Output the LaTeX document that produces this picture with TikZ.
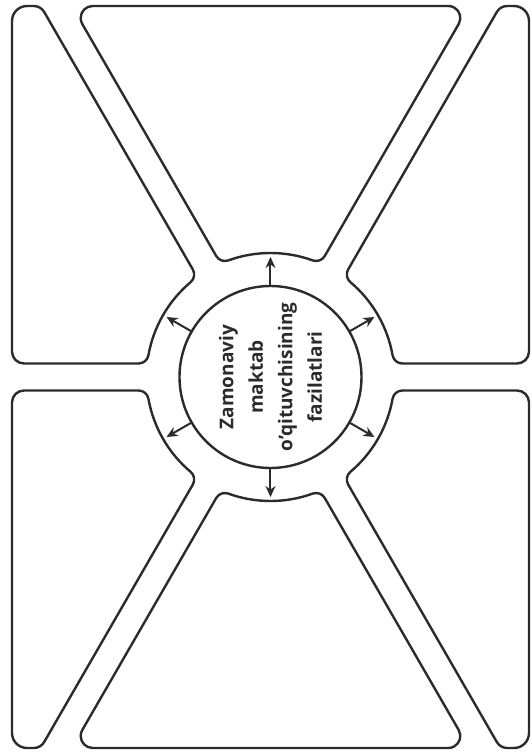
\documentclass[tikz,border=0pt]{standalone}
\usepackage{fontspec}
\setmainfont{Open Sans}
\usetikzlibrary{arrows.meta}
\definecolor{ink}{HTML}{2B2B2B}
\begin{document}
\begin{tikzpicture}[x=1pt,y=1pt,
  region/.style={draw=ink, line width=2.4pt, line join=round},
  trpath/.style={insert path={(131.92,13.5) -- (246.5,13.5) arc[start angle=-90,end angle=0,radius=12]
     -- (258.5,356) arc[start angle=0,end angle=90,radius=15]
     -- (236.7,371) arc[start angle=90,end angle=150,radius=12]
     -- (77.65,107.5) arc[start angle=150,end angle=229.9,radius=10]
     arc[start angle=49.9,end angle=10.1,radius=124]
     arc[start angle=190.1,end angle=270,radius=10] -- cycle}},
  tmpath/.style={insert path={(54.27,121.0) -- (188.21,353.0) arc[start angle=-30,end angle=90,radius=12]
     -- (-177.82,371) arc[start angle=90,end angle=210,radius=12]
     -- (-54.27,121.0) arc[start angle=210,end angle=289.9,radius=10]
     arc[start angle=109.9,end angle=70.1,radius=124]
     arc[start angle=250.1,end angle=330,radius=10] -- cycle}},
  hub/.style={circle, draw=ink, line width=2.4pt, minimum size=182pt, inner sep=0pt, outer sep=0pt},
  hubtext/.style={rotate=90, align=center, text=ink, font=\bfseries\fontsize{19}{29.5}\selectfont},
  arr/.style={draw=ink, line width=2pt, -{Stealth[length=11pt,width=10pt]}}
]
\useasboundingbox (-270.5,-376) rectangle (260.5,377);
% six regions
\draw[region, trpath];
\begin{scope}[xscale=-1] \draw[region, trpath]; \end{scope}
\begin{scope}[yscale=-1] \draw[region, trpath]; \end{scope}
\begin{scope}[xscale=-1,yscale=-1] \draw[region, trpath]; \end{scope}
\draw[region, tmpath];
\begin{scope}[yscale=-1] \draw[region, tmpath]; \end{scope}
% hub
\node[hub] (c) at (0,0) {};
\node[hubtext] (t) at (c.center) {Zamonaviy\\maktab\\o'qituvchisining\\fazilatlari};
\foreach \a in {30,90,150,210,270,330} {
  \coordinate (tip\a) at (\a:120);
  \draw[arr] (c.\a) -- (tip\a);
}
\end{tikzpicture}
\end{document}
